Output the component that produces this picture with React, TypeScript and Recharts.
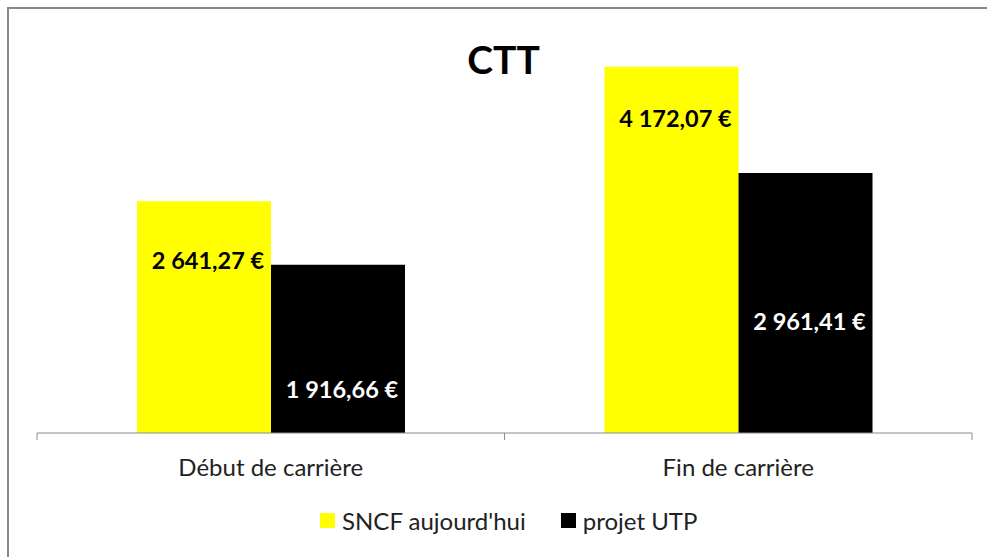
import { BarChart, Bar, XAxis, YAxis, LabelList } from "recharts";

const categories = ["Début de carrière", "Fin de carrière"];
const sncf = [2641.27, 4172.07];
const utp = [1916.66, 2961.41];
const seriesNames = { sncf: "SNCF aujourd'hui", utp: "projet UTP" };

const YELLOW = "#FFFF00";
const BLACK = "#000000";
const FONT = "Lato, 'Open Sans', sans-serif";

const data = categories.map((c, i) => ({ name: c, sncf: sncf[i], utp: utp[i] }));

// how far below the top of each bar its value label sits (px)
const LABEL_DROP: Record<string, number[]> = { sncf: [59, 51], utp: [124, 148] };

function euro(v: number) {
  const [int, dec] = v.toFixed(2).split(".");
  return int.replace(/\B(?=(\d{3})+(?!\d))/g, " ") + "," + dec + " €";
}

function valueLabel(key: string, color: string) {
  return (props: any) => {
    const { x, y, width, value, index } = props;
    return (
      <text
        x={Number(x) + Number(width) / 2 + 4}
        y={Number(y) + LABEL_DROP[key][index]}
        textAnchor="middle"
        dominantBaseline="central"
        fill={color}
        fontFamily={FONT}
        fontWeight={700}
        fontSize={23.5}
      >
        {euro(Number(value))}
      </text>
    );
  };
}

function CategoryTick(props: any) {
  const { x, y, payload, index, visibleTicksCount, width } = props;
  const band = (Number(width) || 935) / (visibleTicksCount || 2);
  const left = x - band / 2;
  return (
    <g>
      <line x1={left} y1={y} x2={left} y2={y + 7} stroke="#8c8c8c" />
      {index === visibleTicksCount - 1 && (
        <line x1={x + band / 2} y1={y} x2={x + band / 2} y2={y + 7} stroke="#8c8c8c" />
      )}
      <text
        x={x}
        y={y + 33}
        textAnchor="middle"
        dominantBaseline="central"
        fill="#222"
        fontFamily={FONT}
        fontSize={24}
      >
        {payload.value}
      </text>
    </g>
  );
}

export default function App() {
  return (
    <div
      style={{
        position: "absolute",
        left: 0,
        top: 0,
        width: 987,
        height: 557,
        overflow: "hidden",
        background: "#fff",
        fontFamily: FONT,
      }}
    >
      <div
        style={{
          position: "absolute",
          left: 7,
          top: 7,
          width: 980,
          height: 550,
          borderTop: "2px solid #888",
          borderLeft: "2px solid #888",
        }}
      />
      <div
        style={{
          position: "absolute",
          left: 0,
          top: 36,
          width: 1007,
          textAlign: "center",
          fontSize: 39,
          fontWeight: 700,
          color: "#000",
        }}
      >
        CTT
      </div>
      <BarChart
        width={987}
        height={557}
        data={data}
        margin={{ top: 38, right: 15, left: 37, bottom: 94 }}
        barCategoryGap={100}
        barGap={0}
        style={{ position: "absolute", left: 0, top: 0 }}
      >
        <XAxis
          dataKey="name"
          height={30}
          axisLine={{ stroke: "#8c8c8c" }}
          tickLine={false}
          tickSize={0}
          tickMargin={0}
          tick={<CategoryTick />}
          interval={0}
        />
        <YAxis hide domain={[0, 4500]} />
        <Bar dataKey="sncf" name={seriesNames.sncf} fill={YELLOW} isAnimationActive={false}>
          <LabelList dataKey="sncf" content={valueLabel("sncf", "#000")} />
        </Bar>
        <Bar dataKey="utp" name={seriesNames.utp} fill={BLACK} isAnimationActive={false}>
          <LabelList dataKey="utp" content={valueLabel("utp", "#fff")} />
        </Bar>
      </BarChart>
      <div
        style={{
          position: "absolute",
          top: 506,
          left: 320,
          display: "flex",
          alignItems: "center",
          fontSize: 24,
          color: "#222",
          whiteSpace: "nowrap",
        }}
      >
        <span style={{ width: 15, height: 15, background: YELLOW, display: "inline-block" }} />
        <span style={{ marginLeft: 7 }}>{seriesNames.sncf}</span>
        <span style={{ width: 15, height: 15, background: BLACK, display: "inline-block", marginLeft: 35 }} />
        <span style={{ marginLeft: 7 }}>{seriesNames.utp}</span>
      </div>
    </div>
  );
}
